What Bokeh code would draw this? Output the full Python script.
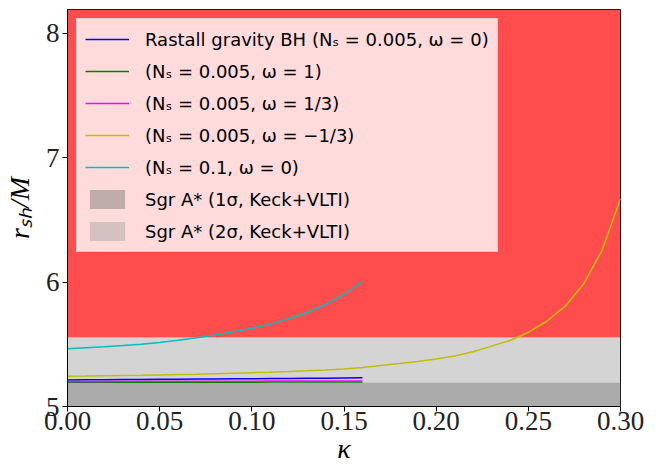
from bokeh.plotting import figure
from bokeh.models import Legend, LegendItem, FixedTicker, PrintfTickFormatter, Range1d
from bokeh.embed import file_html
from bokeh.resources import INLINE

# ---- data ----
kappa_short = [0.00, 0.01, 0.02, 0.03, 0.04, 0.05, 0.06, 0.07, 0.08, 0.09,
               0.10, 0.11, 0.12, 0.13, 0.14, 0.15, 0.16]
kappa_long = [0.00, 0.01, 0.02, 0.03, 0.04, 0.05, 0.06, 0.07, 0.08, 0.09,
              0.10, 0.11, 0.12, 0.13, 0.14, 0.15, 0.16, 0.17, 0.18, 0.19,
              0.20, 0.21, 0.22, 0.23, 0.24, 0.25, 0.26, 0.27, 0.28, 0.29, 0.30]

rsh_rastall = [5.213, 5.214, 5.215, 5.216, 5.217, 5.218, 5.219, 5.220, 5.221,
               5.222, 5.223, 5.224, 5.225, 5.227, 5.228, 5.230, 5.232]
rsh_w1 = [5.194, 5.194, 5.194, 5.194, 5.195, 5.195, 5.195, 5.195, 5.195,
          5.195, 5.195, 5.196, 5.196, 5.196, 5.196, 5.196, 5.196]
rsh_w13 = [5.201, 5.201, 5.201, 5.202, 5.202, 5.202, 5.202, 5.203, 5.203,
           5.203, 5.203, 5.204, 5.204, 5.204, 5.204, 5.205, 5.205]
rsh_wm13 = [5.244, 5.245, 5.247, 5.249, 5.251, 5.254, 5.257, 5.260, 5.264, 5.268,
            5.272, 5.276, 5.281, 5.287, 5.294, 5.302, 5.314, 5.330, 5.345, 5.362,
            5.382, 5.405, 5.440, 5.485, 5.530, 5.595, 5.685, 5.806, 5.985, 6.255, 6.670]
rsh_ns01 = [5.464, 5.472, 5.480, 5.490, 5.501, 5.515, 5.532, 5.552, 5.575,
            5.600, 5.628, 5.662, 5.705, 5.755, 5.820, 5.900, 6.006]

sgr_1sigma_upper = 5.19
sgr_2sigma_upper = 5.555
x_limits = [0.0, 0.30]
y_limits = [5.0, 8.19]
x_ticks = [0.00, 0.05, 0.10, 0.15, 0.20, 0.25, 0.30]
y_ticks = [5, 6, 7, 8]

labels = [
    "Rastall gravity BH (N\u209b = 0.005, \u03c9 = 0)",
    "(N\u209b = 0.005, \u03c9 = 1)",
    "(N\u209b = 0.005, \u03c9 = 1/3)",
    "(N\u209b = 0.005, \u03c9 = \u22121/3)",
    "(N\u209b = 0.1, \u03c9 = 0)",
    "Sgr A* (1\u03c3, Keck+VLTI)",
    "Sgr A* (2\u03c3, Keck+VLTI)",
]

# ---- figure ----
p = figure(frame_width=553, frame_height=397, output_backend="svg", toolbar_location=None,
           x_range=Range1d(*x_limits), y_range=Range1d(*y_limits),
           min_border_left=60, min_border_right=31, min_border_top=9,
           min_border_bottom=10)
p.xgrid.visible = False
p.ygrid.visible = False
p.outline_line_color = "black"
p.outline_line_width = 1
p.background_fill_color = "white"

# shaded regions
p.quad(left=x_limits[0], right=x_limits[1], bottom=sgr_2sigma_upper, top=y_limits[1] + 1,
       fill_color="red", fill_alpha=0.7, line_color=None)
r2 = p.quad(left=x_limits[0], right=x_limits[1], bottom=y_limits[0] - 1, top=sgr_2sigma_upper,
            fill_color="#a9a9a9", fill_alpha=0.5, line_color=None)
r1 = p.quad(left=x_limits[0], right=x_limits[1], bottom=y_limits[0] - 1, top=sgr_1sigma_upper,
            fill_color="#808080", fill_alpha=0.5, line_color=None)

lw = 1.5
rb = p.line(kappa_short, rsh_rastall, line_color="#0000ff", line_width=lw)
rg = p.line(kappa_short, rsh_w1, line_color="#008000", line_width=lw)
rm = p.line(kappa_short, rsh_w13, line_color="#ff00ff", line_width=lw)
ry = p.line(kappa_long, rsh_wm13, line_color="#bfbf00", line_width=lw)
rc = p.line(kappa_short, rsh_ns01, line_color="#00bfbf", line_width=lw)

legend = Legend(items=[
    LegendItem(label=labels[0], renderers=[rb]),
    LegendItem(label=labels[1], renderers=[rg]),
    LegendItem(label=labels[2], renderers=[rm]),
    LegendItem(label=labels[3], renderers=[ry]),
    LegendItem(label=labels[4], renderers=[rc]),
    LegendItem(label=labels[5], renderers=[r1]),
    LegendItem(label=labels[6], renderers=[r2]),
], location="top_left")
legend.background_fill_color = "white"
legend.background_fill_alpha = 0.8
legend.border_line_color = "#cccccc"
legend.border_line_alpha = 0.8
legend.label_text_font = "DejaVu Sans"
legend.label_text_font_size = "18px"
legend.label_text_color = "black"
legend.glyph_width = 44
legend.glyph_height = 24
legend.label_height = 24
legend.spacing = 8
legend.padding = 8
legend.margin = 9
legend.label_standoff = 16
p.add_layout(legend)

# axes
for ax in (p.xaxis[0], p.yaxis[0]):
    ax.axis_line_color = "black"
    ax.major_tick_line_color = "black"
    ax.major_tick_out = 5
    ax.major_tick_in = 0
    ax.minor_tick_line_color = None
    ax.major_label_text_font = "Liberation Serif"
    ax.major_label_text_font_size = "27px"
    ax.major_label_text_color = "#222222"
    ax.axis_label_text_font = "Liberation Serif"
    ax.axis_label_text_font_size = "28px"
    ax.axis_label_text_font_style = "italic"
    ax.axis_label_text_color = "black"

p.xaxis.ticker = FixedTicker(ticks=x_ticks)
p.xaxis.formatter = PrintfTickFormatter(format="%.2f")
p.yaxis.ticker = FixedTicker(ticks=y_ticks)
p.xaxis.axis_label = "\u03ba"
p.yaxis.axis_label = "r\u209b\u2095/M"
p.xaxis.major_label_standoff = 0
p.yaxis.major_label_standoff = 3
p.xaxis.axis_label_standoff = 0
p.yaxis.axis_label_standoff = 8

open("out.html", "w").write(file_html(p, INLINE))
